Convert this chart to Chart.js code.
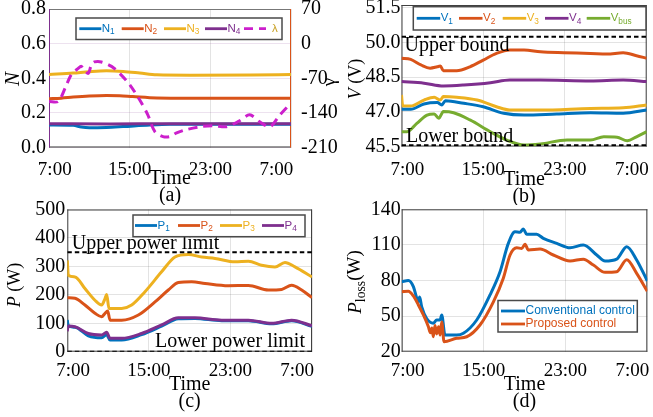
<!DOCTYPE html>
<html>
<head>
<meta charset="utf-8">
<title>Droop control results</title>
<script src="https://cdn.jsdelivr.net/npm/chart.js@4.4.1/dist/chart.umd.min.js"></script>
<style>
  body { margin: 0; background: #fff; }
  #wrap { position: relative; width: 653px; height: 417px; overflow: hidden; }
  canvas { position: absolute; }
</style>
</head>
<body>
<div id="wrap">
  <canvas id="chartA" width="340" height="205" style="left:0;top:0"></canvas>
  <canvas id="chartB" width="313" height="205" style="left:340px;top:0"></canvas>
  <canvas id="chartC" width="340" height="227" style="left:0;top:190px"></canvas>
  <canvas id="chartD" width="313" height="227" style="left:340px;top:190px"></canvas>
</div>
<script>
// time axis: hours after 7:00, one full day
const timeTicks = [0, 8, 16, 24]
const timeLabels = ['7:00', '15:00', '23:00', '7:00']
const timeLabelAt = [0.57, 8, 16, 22.55] // end labels sit a bit inside the box

// (a) droop coefficients N and lambda
const nTicks = [0, 0.2, 0.4, 0.6, 0.8]
const lambdaTicks = [-210, -140, -70, 0, 70]
const n1 = [[0, 0.130], [2.4, 0.128], [3.2, 0.118], [4.0, 0.114], [5.7, 0.116], [7.35, 0.121], [10, 0.130], [12, 0.134], [18, 0.135], [24, 0.135]]
const n2 = [[0, 0.282], [1.2, 0.285], [2.4, 0.291], [4, 0.297], [5.7, 0.300], [7, 0.299], [8.3, 0.294], [10.7, 0.286], [14, 0.285], [20, 0.285], [24, 0.285]]
const n3 = [[0, 0.421], [2.4, 0.430], [4, 0.438], [5.7, 0.443], [7.35, 0.439], [9, 0.430], [10.7, 0.420], [14, 0.418], [20, 0.419], [24, 0.421]]
const n4 = [[0, 0.137], [6, 0.136], [12, 0.137], [18, 0.137], [24, 0.137]]
const lambda = [[0, -117], [0.9, -117], [1.6, -90], [2.2, -63], [2.9, -50], [3.2, -46], [3.5, -54], [3.9, -60], [4.2, -43], [4.5, -37], [5.2, -37], [6.2, -46], [7.0, -60], [8.0, -83], [9.0, -114], [9.8, -144], [10.5, -178], [11.3, -188], [12.0, -188], [12.6, -181], [13.6, -174], [15.0, -168], [16.3, -166], [17.6, -168], [18.9, -156], [19.9, -144], [20.9, -158], [21.9, -168], [22.9, -144], [24, -120]]

// (b) voltages
const vTicks = [45.5, 47.0, 48.5, 50.0, 51.5]
const vUpper = 50.25
const vLower = 45.55
const v1 = [[0, 47.11], [0.9, 47.11], [2.2, 47.34], [3.5, 47.40], [3.95, 47.30], [4.3, 47.48], [6.1, 47.37], [8.0, 47.22], [10.0, 46.94], [12.0, 46.86], [15.2, 46.91], [18.5, 46.96], [21.7, 46.94], [24, 47.08]]
const v2 = [[0, 49.32], [0.9, 49.27], [1.9, 49.03], [2.8, 48.89], [3.5, 48.95], [3.8, 48.98], [4.1, 48.78], [5.4, 48.78], [6.7, 48.95], [8.0, 49.24], [9.3, 49.53], [10.6, 49.68], [12.0, 49.68], [13.6, 49.60], [15.9, 49.56], [18.5, 49.53], [20.1, 49.50], [21.7, 49.56], [23.0, 49.43], [24, 49.32]]
const v3 = [[0, 47.73], [0.12, 47.25], [0.9, 47.25], [2.2, 47.51], [3.2, 47.63], [3.8, 47.51], [4.1, 47.66], [5.4, 47.63], [7.4, 47.51], [9.3, 47.22], [10.6, 47.08], [13.6, 47.08], [18.5, 47.15], [21.7, 47.18], [24, 47.30]]
const v4 = [[0, 48.31], [2.2, 48.24], [4.1, 48.12], [6.1, 48.16], [8.7, 48.26], [10.6, 48.38], [13.6, 48.38], [18.5, 48.34], [21.7, 48.38], [24, 48.31]]
const vBus = [[0, 46.14], [0.55, 46.14], [1.5, 46.50], [2.5, 46.86], [3.2, 46.91], [3.65, 46.72], [4.1, 47.01], [5.1, 46.96], [6.7, 46.65], [8.7, 46.14], [10.3, 45.78], [12.0, 45.56], [13.6, 45.61], [16.2, 45.78], [18.5, 45.78], [19.8, 45.92], [21.1, 45.90], [22.1, 45.75], [23.0, 45.92], [24, 46.14]]

// (c) converter powers
const pTicks = [0, 100, 200, 300, 400, 500]
const pUpper = 350
const pLower = 0
const p1 = [[0, 112], [0.08, 92], [0.75, 86], [2.06, 56], [3.37, 49], [3.86, 60], [4.19, 41], [5.33, 41], [7.29, 60], [9.25, 90], [10.89, 116], [12.52, 117], [15.14, 109], [17.76, 109], [20.05, 98], [22.0, 109], [24, 89]]
const p2 = [[0, 190], [0.75, 188], [1.73, 164], [2.71, 135], [3.37, 123], [3.7, 135], [3.96, 143], [4.19, 111], [5.33, 111], [6.97, 129], [8.6, 175], [9.91, 217], [10.89, 243], [12.2, 246], [13.51, 240], [15.79, 232], [17.76, 233], [19.72, 217], [21.03, 219], [22.0, 234], [22.99, 217], [24, 190]]
const p3 = [[0, 321], [0.1, 269], [0.75, 263], [1.73, 222], [2.71, 181], [3.37, 164], [3.7, 187], [3.86, 201], [4.09, 152], [5.33, 152], [6.31, 164], [7.62, 211], [9.25, 281], [10.56, 333], [11.87, 342], [13.18, 333], [14.49, 328], [16.45, 316], [17.76, 318], [19.06, 304], [20.37, 298], [21.35, 314], [22.33, 298], [24, 263]]
const p4 = [[0, 72], [0.08, 90], [0.75, 88], [2.06, 64], [3.37, 59], [3.86, 68], [4.19, 47], [5.33, 47], [7.29, 64], [9.25, 94], [10.89, 119], [12.52, 119], [15.14, 111], [17.76, 111], [20.05, 100], [22.0, 111], [24, 91]]

// (d) power loss
const lossTicks = [20, 50, 80, 110, 140]
const lossConventional = [[0, 79], [0.65, 80], [1.14, 74.8], [1.47, 65], [1.6, 62], [1.75, 66], [1.95, 58], [2.44, 48], [3.09, 44], [3.42, 46.7], [3.75, 46.7], [3.91, 51], [4.23, 34], [5.37, 34], [6.03, 35.5], [7.33, 46.7], [8.63, 67.8], [9.61, 87.4], [10.42, 111.3], [11.07, 121], [11.56, 120.6], [11.89, 123.4], [12.21, 119], [13.19, 119], [13.84, 115.5], [15.15, 111.3], [16.45, 107.6], [17.75, 110], [19.06, 101.5], [19.87, 96.4], [21.01, 98], [21.99, 108.5], [22.96, 97.3], [24, 79.6]]
const lossProposed = [[0, 70.6], [0.65, 71], [1.14, 67], [1.63, 59.4], [2.12, 51], [2.61, 41], [2.8, 36], [2.95, 40], [3.09, 32.6], [3.25, 42], [3.42, 35], [3.6, 41], [3.75, 34], [3.91, 45], [4.14, 28.4], [5.37, 31.3], [6.35, 32.6], [7.65, 42.5], [8.96, 62], [9.93, 81.9], [10.59, 101.5], [11.24, 107.6], [11.73, 107], [12.05, 110.5], [12.38, 105.7], [13.52, 106.5], [14.82, 101.5], [16.45, 96.4], [17.75, 98], [18.73, 93], [19.87, 86.9], [21.01, 87.4], [21.99, 97.5], [22.96, 86], [24, 71]]

const BLUE = '#0072BD'
const ORANGE = '#D95319'
const YELLOW = '#EDB120'
const PURPLE = '#7E2F8E'
const GREEN = '#77AC30'
const MAGENTA = '#CC1FCC'
const GRID = 'rgba(0,0,0,0.11)'
const serif = "'Liberation Serif', 'Times New Roman', serif"
const sans = "'Liberation Sans', Arial, sans-serif"

Chart.defaults.font.family = serif
Chart.defaults.color = '#000'

const pts = arr => arr.map(([x, y]) => ({ x, y }))
const flat = v => [{ x: timeTicks[0], y: v }, { x: timeTicks[timeTicks.length - 1], y: v }]

const series = (label, data, color, extra) => Object.assign({
  label,
  data: pts(data),
  borderColor: color,
  borderWidth: 3,
  pointRadius: 0,
  fill: false,
  cubicInterpolationMode: 'monotone',
}, extra)

const bound = (label, v) => ({
  label,
  data: flat(v),
  borderColor: '#000',
  borderWidth: 2,
  borderDash: [4.5, 3],
  pointRadius: 0,
  order: -1,
})

// text with italic (i) and subscript (s) runs
function richText(ctx, parts, x, y, size, align, rot, color, family) {
  ctx.save()
  ctx.translate(x, y)
  ctx.rotate(rot || 0)
  ctx.textBaseline = 'middle'
  ctx.textAlign = 'left'
  ctx.fillStyle = color || '#000'
  const runs = parts.map(([t, s]) => {
    const sub = s.includes('s')
    const font = `${s.includes('i') ? 'italic ' : ''}${sub ? size * 0.72 : size}px ${family || serif}`
    ctx.font = font
    return { t, font, w: ctx.measureText(t).width, dy: sub ? size * 0.3 : 0 }
  })
  const total = runs.reduce((a, r) => a + r.w, 0)
  let cx = align === 'left' ? 0 : -total / 2
  for (const r of runs) {
    ctx.font = r.font
    ctx.fillText(r.t, cx, r.dy)
    cx += r.w
  }
  ctx.restore()
}

const subParts = s => s.includes('_') ? [[s.split('_')[0], ''], [s.split('_')[1], 's']] : [[s, '']]

// frame, axis titles, in-plot notes and the boxed legend
function decor(cfg) {
  return {
    id: 'decor',
    beforeDatasetsDraw(chart) {
      const { ctx, chartArea: a } = chart
      const f = cfg.frame
      const side = (x1, y1, x2, y2, c) => {
        ctx.strokeStyle = c
        ctx.beginPath()
        ctx.moveTo(x1, y1)
        ctx.lineTo(x2, y2)
        ctx.stroke()
      }
      ctx.save()
      ctx.lineWidth = 1
      side(a.left, a.top + 0.5, a.right, a.top + 0.5, f.top)
      side(a.left, a.bottom - 0.5, a.right, a.bottom - 0.5, f.bottom)
      side(a.left + 0.5, a.top, a.left + 0.5, a.bottom, f.left)
      side(a.right - 0.5, a.top, a.right - 0.5, a.bottom, f.right)
      ctx.restore()
    },
    afterDraw(chart) {
      const ctx = chart.ctx
      for (const t of cfg.titles) {
        richText(ctx, t.parts, t.x, t.y, t.size, 'center', t.rot)
      }
      for (const n of cfg.notes || []) {
        const x = chart.scales.x.getPixelForValue(n.x)
        const y = chart.scales.y.getPixelForValue(n.y)
        richText(ctx, [[n.text, '']], x, y, 20, 'left', 0)
      }
      const L = cfg.legend
      ctx.save()
      ctx.fillStyle = '#fff'
      ctx.fillRect(L.x, L.y, L.w, L.h)
      ctx.strokeStyle = '#4a4a4a'
      ctx.lineWidth = 1.5
      ctx.strokeRect(L.x, L.y, L.w, L.h)
      for (const it of L.items) {
        const ds = chart.data.datasets[it.ds]
        ctx.strokeStyle = ds.borderColor
        ctx.lineWidth = 2.8
        ctx.setLineDash(ds.borderDash || [])
        ctx.beginPath()
        ctx.moveTo(it.x, it.y)
        ctx.lineTo(it.x + L.len, it.y)
        ctx.stroke()
        ctx.setLineDash([])
        richText(ctx, subParts(ds.label), it.x + L.len + (it.gap || 0.5), it.y, L.size, 'left', 0, it.color || ds.borderColor, sans)
      }
      ctx.restore()
    },
  }
}

function timeScales(xHeight, tickPad, caption, titlePad) {
  return {
    x: {
      type: 'linear', min: 0, max: 24, position: 'bottom',
      afterBuildTicks: s => { s.ticks = timeLabelAt.map(v => ({ value: v })) },
      afterFit: s => { s.height = xHeight; s.paddingLeft = 0; s.paddingRight = 0 },
      ticks: { padding: tickPad, maxRotation: 0, autoSkip: false, color: '#000', font: { size: 19, lineHeight: 1 }, callback: (v, i) => timeLabels[i] },
      grid: { display: false },
      border: { display: false },
      title: { display: true, text: ['Time', caption], color: '#000', font: { size: 20, lineHeight: '17px' }, padding: { top: 0, bottom: titlePad } },
    },
    xg: {
      type: 'linear', min: 0, max: 24, position: 'bottom',
      afterBuildTicks: s => { s.ticks = timeTicks.map(v => ({ value: v })) },
      afterFit: s => { s.height = 0; s.paddingLeft = 0; s.paddingRight = 0 },
      ticks: { display: false },
      grid: { color: GRID, drawTicks: false },
      border: { display: false },
    },
  }
}

function valueScale(ticks, min, max, width, pad, fmt, extra) {
  return Object.assign({
    type: 'linear', position: 'left', min, max,
    afterBuildTicks: s => { s.ticks = ticks.map(v => ({ value: v })) },
    afterFit: s => { s.width = width; s.paddingTop = 0; s.paddingBottom = 0 },
    ticks: { padding: pad, color: '#000', font: { size: 20, lineHeight: 1 }, callback: fmt },
    grid: { color: GRID, drawTicks: false },
    border: { display: false },
  }, extra)
}

function makeChart(id, datasets, padding, scales, cfg) {
  return new Chart(document.getElementById(id), {
    type: 'line',
    data: { datasets },
    options: {
      responsive: false,
      animation: false,
      devicePixelRatio: 1,
      events: [],
      layout: { padding },
      plugins: { legend: { display: false }, tooltip: { enabled: false } },
      scales,
    },
    plugins: [decor(cfg)],
  })
}

const dark = '#404040'
const fixed1 = v => v.toFixed(1)
const plain = v => String(v)

// (a)
makeChart('chartA', [
  series('N_1', n1, BLUE, { order: 4 }),
  series('N_2', n2, ORANGE, { order: 3 }),
  series('N_3', n3, YELLOW, { order: 2 }),
  series('N_4', n4, PURPLE, { order: 1 }),
  series('λ', lambda, MAGENTA, { order: 0, yAxisID: 'y1', borderDash: [9, 6], borderWidth: 3, cubicInterpolationMode: 'default', tension: 0.3 }),
], { top: 9, right: 0, bottom: 0, left: 0 }, Object.assign(timeScales(57.5, 5.5, '(a)', 0.5), {
  y: valueScale(nTicks, 0, 0.8, 49, 3, fixed1, { grid: { color: 'rgba(126,47,142,0.14)', drawTicks: false } }),
  y1: valueScale(lambdaTicks, -210, 70, 49, 2, plain, { position: 'right', grid: { display: false } }),
}), {
  frame: { top: '#777', bottom: '#333', left: PURPLE, right: ORANGE },
  titles: [
    { parts: [['N', 'i']], x: 13, y: 79, size: 21, rot: -Math.PI / 2 },
    { parts: [['γ', '']], x: 330, y: 82, size: 19, rot: -Math.PI / 2 },
  ],
  legend: {
    x: 76, y: 18, w: 206, h: 21.5, len: 22, size: 11.5,
    items: [
      { ds: 0, x: 79.3, y: 28.7 },
      { ds: 1, x: 121.7, y: 28.7 },
      { ds: 2, x: 164, y: 28.7 },
      { ds: 3, x: 205, y: 28.7 },
      { ds: 4, x: 244, y: 28.7, gap: 6, color: '#C9A227' },
    ],
  },
})

// (b)
makeChart('chartB', [
  series('V_1', v1, BLUE),
  series('V_2', v2, ORANGE),
  series('V_3', v3, YELLOW),
  series('V_4', v4, PURPLE),
  series('V_bus', vBus, GREEN),
  bound('Upper bound', vUpper),
  bound('Lower bound', vLower),
], { top: 5, right: 6.3, bottom: 0, left: 0 }, Object.assign(timeScales(58.5, 6.5, '(b)', 0), {
  y: valueScale(vTicks, 45.5, 51.625, 61.5, 1, fixed1),
}), {
  frame: { top: dark, bottom: dark, left: dark, right: dark },
  titles: [
    { parts: [['V', 'i'], [' (V)', '']], x: 16.5, y: 79, size: 18, rot: -Math.PI / 2 },
  ],
  notes: [
    { text: 'Upper bound', x: 0.3, y: 49.87 },
    { text: 'Lower bound', x: 0.44, y: 45.92 },
  ],
  legend: {
    x: 73.3, y: 6.7, w: 232.7, h: 23.3, len: 23.5, size: 11.5,
    items: [
      { ds: 0, x: 76.7, y: 18.3 },
      { ds: 1, x: 119, y: 18.3 },
      { ds: 2, x: 162.7, y: 18.3 },
      { ds: 3, x: 205, y: 18.3 },
      { ds: 4, x: 246.7, y: 18.3 },
    ],
  },
})

// (c)
makeChart('chartC', [
  series('P_1', p1, BLUE, { order: 4 }),
  series('P_2', p2, ORANGE, { order: 3 }),
  series('P_3', p3, YELLOW, { order: 2 }),
  series('P_4', p4, PURPLE, { order: 1 }),
  bound('Upper power limit', pUpper),
  bound('Lower power limit', pLower),
], { top: 19.5, right: 28, bottom: 0, left: 0 }, Object.assign(timeScales(65.3, 1.4, '(c)', 6.8), {
  y: valueScale(pTicks, 0, 500, 67.3, 2, plain),
}), {
  frame: { top: dark, bottom: dark, left: dark, right: dark },
  titles: [
    { parts: [['P', 'i'], [' (W)', '']], x: 15.5, y: 95, size: 18, rot: -Math.PI / 2 },
  ],
  notes: [
    { text: 'Upper power limit', x: 0.43, y: 381 },
    { text: 'Lower power limit', x: 8.6, y: 33.4 },
  ],
  legend: {
    x: 133, y: 25, w: 172, h: 21.7, len: 22, size: 11.5,
    items: [
      { ds: 0, x: 135, y: 35.5 },
      { ds: 1, x: 178, y: 35.5 },
      { ds: 2, x: 220, y: 35.5 },
      { ds: 3, x: 262, y: 35.5 },
    ],
  },
})

// (d)
makeChart('chartD', [
  series('Conventional control', lossConventional, BLUE, { order: 1 }),
  series('Proposed control', lossProposed, ORANGE, { order: 0 }),
], { top: 19.3, right: 5.7, bottom: 0, left: 0 }, Object.assign(timeScales(65.3, 2.1, '(d)', 6.8), {
  y: valueScale(lossTicks, 20, 140, 61.7, 1, plain),
}), {
  frame: { top: dark, bottom: dark, left: dark, right: dark },
  titles: [
    { parts: [['P', 'i'], ['loss', 's'], ['(W)', '']], x: 15.5, y: 92, size: 19, rot: -Math.PI / 2 },
  ],
  legend: {
    x: 158, y: 110.5, w: 139.3, h: 31.5, len: 24, size: 12,
    items: [
      { ds: 0, x: 161, y: 121 },
      { ds: 1, x: 161, y: 134 },
    ],
  },
})
</script>
</body>
</html>
